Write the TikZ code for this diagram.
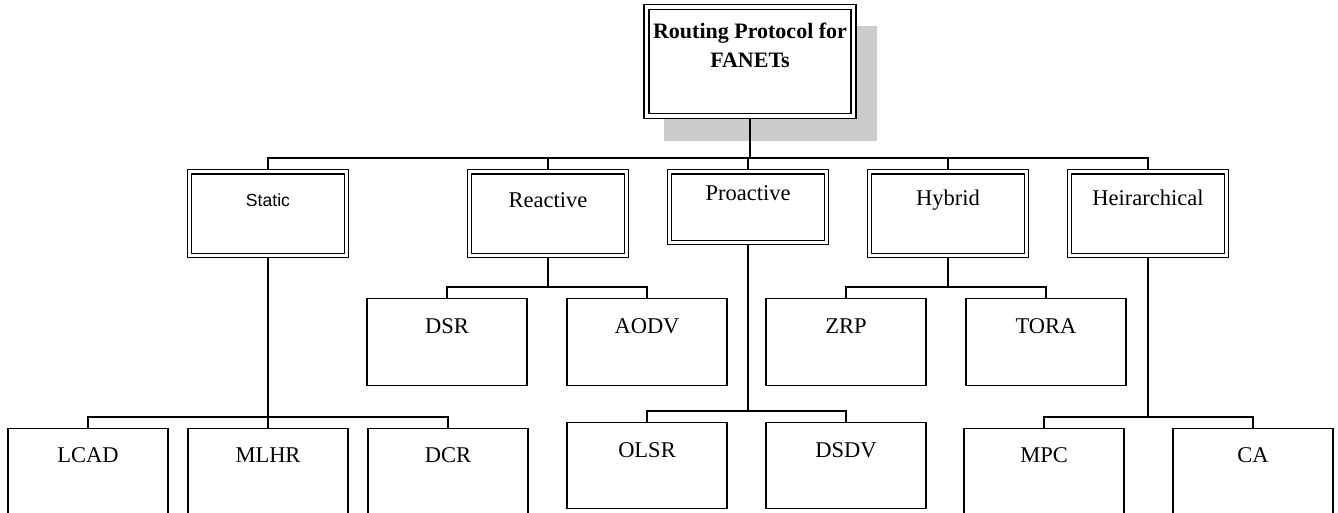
\documentclass[tikz,border=0pt]{standalone}
\usepackage{fontspec}
\setmainfont{Liberation Serif}
\newfontfamily\arialfont{Liberation Sans}
\usetikzlibrary{backgrounds}
\definecolor{shadowgray}{HTML}{CCCCCC}
\tikzset{
  lw/.style={line width=1.3pt},
  lbl/.style={font=\fontsize{22.5}{27}\selectfont},
  dbox/.style={lw, draw=black, double=white, double distance=3pt, fill=white,
    inner xsep=0pt, inner ysep=0pt, minimum width=156.8pt, anchor=north, lbl},
  sbox/.style={lw, draw=black, fill=white, inner xsep=0pt, inner ysep=0pt,
    minimum width=160pt, anchor=north, lbl},
  conn/.style={lw, draw=black},
  roottext/.style={font=\fontsize{22}{26}\selectfont\bfseries, anchor=base, inner sep=0pt}
}
\begin{document}
\begin{tikzpicture}[x=1pt,y=-1pt]
\useasboundingbox (0,0) rectangle (1338,513);
\clip (0,0) rectangle (1338,513);
% root
\node[lw, draw=black, double=white, double distance=3.8pt, fill=white, inner sep=0pt,
      minimum width=207pt, minimum height=109pt, anchor=north] (root) at (750,6.5) {};
\node[roottext] (roott1) at (750,39) {Routing Protocol for};
\node[roottext] (roott2) at (750,68) {FANETs};
% level 2
\node[dbox, text height=34.9pt, text depth=48.9pt, font=\arialfont\fontsize{17.6}{21}\selectfont] (static) at (268,171.1) {Static};
\node[dbox, text height=35.9pt, text depth=47.9pt] (reactive) at (548,171.1) {Reactive};
\node[dbox, text height=28.9pt, text depth=41.9pt] (proactive) at (748,171.1) {Proactive};
\node[dbox, text height=33.9pt, text depth=49.9pt] (hybrid) at (948,171.1) {Hybrid};
\node[dbox, text height=33.9pt, text depth=49.9pt] (heir) at (1148,171.1) {Heirarchical};
% level 3
\node[sbox, text height=35pt, text depth=52pt] (dsr) at (447,298) {DSR};
\node[sbox, text height=35pt, text depth=52pt] (aodv) at (647,298) {AODV};
\node[sbox, text height=35pt, text depth=52pt] (zrp) at (846,298) {ZRP};
\node[sbox, text height=35pt, text depth=52pt] (tora) at (1046,298) {TORA};
% level 4
\node[sbox, text height=35pt, text depth=51pt] (olsr) at (647,422) {OLSR};
\node[sbox, text height=35pt, text depth=51pt] (dsdv) at (846,422) {DSDV};
\node[sbox, text height=34pt, text depth=70pt] (lcad) at (88,428) {LCAD};
\node[sbox, text height=34pt, text depth=70pt] (mlhr) at (268,428) {MLHR};
\node[sbox, text height=34pt, text depth=70pt] (dcr) at (448,428) {DCR};
\node[sbox, text height=34pt, text depth=70pt] (mpc) at (1044,428) {MPC};
\node[sbox, text height=34pt, text depth=70pt] (ca) at (1253,428) {CA};
% bus coordinates
\coordinate (bus1) at (750,158);
\coordinate (busr) at (548,287);
\coordinate (bush) at (948,287);
\coordinate (busp) at (748,411);
\coordinate (buss) at (268,417);
\coordinate (busi) at (1148,417);
\begin{pgfonlayer}{background}
\node[fill=shadowgray, inner sep=0pt, minimum width=213pt, minimum height=115pt, anchor=north west] (shadow) at (664,26) {};
\draw[conn] (root.south) -- (bus1);
\draw[conn] (static.north) |- (bus1) -| (heir.north);
\draw[conn] (reactive.north) -- (reactive.north |- bus1);
\draw[conn] (proactive.north) -- (proactive.north |- bus1);
\draw[conn] (hybrid.north) -- (hybrid.north |- bus1);
% reactive
\draw[conn] (reactive.south) -- (busr);
\draw[conn] (dsr.north) |- (busr) -| (aodv.north);
% hybrid
\draw[conn] (hybrid.south) -- (bush);
\draw[conn] (zrp.north) |- (bush) -| (tora.north);
% proactive
\draw[conn] (proactive.south) -- (busp);
\draw[conn] (olsr.north) |- (busp) -| (dsdv.north);
% static
\draw[conn] (static.south) -- (mlhr.north);
\draw[conn] (lcad.north) |- (buss) -| (dcr.north);
% heirarchical
\draw[conn] (heir.south) -- (busi);
\draw[conn] (mpc.north) |- (busi) -| (ca.north);
\end{pgfonlayer}
\end{tikzpicture}
\end{document}
